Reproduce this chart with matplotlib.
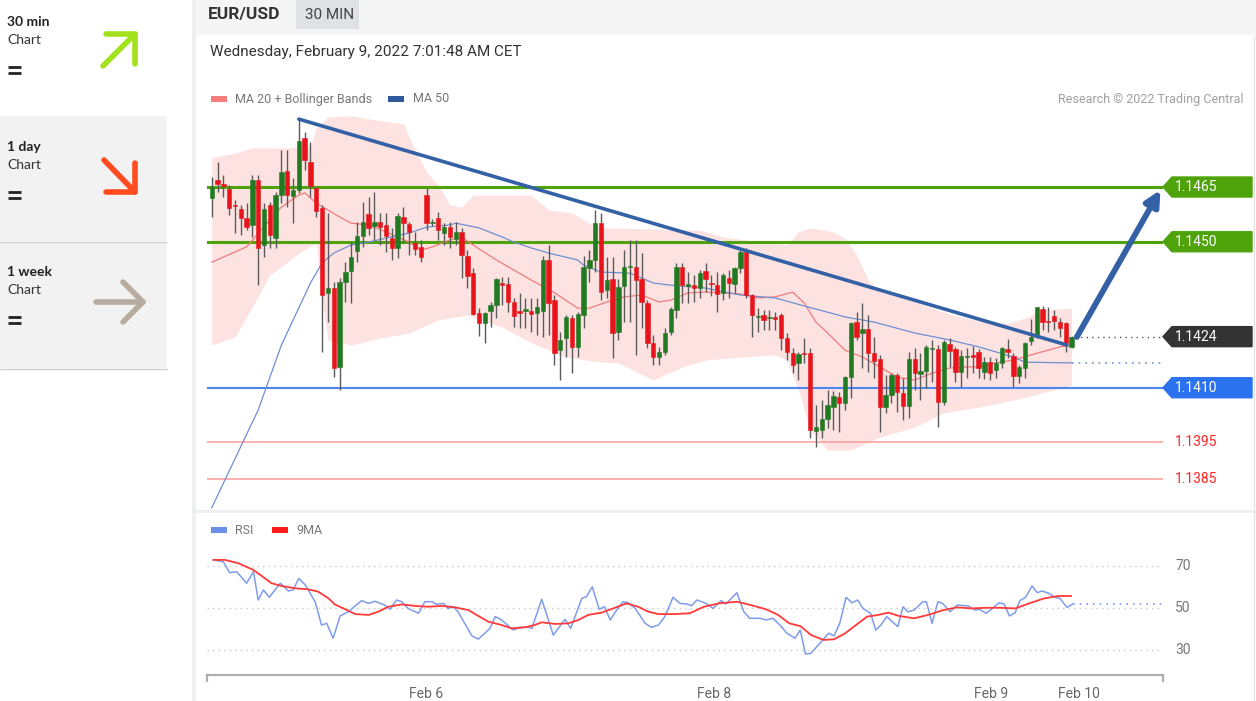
import matplotlib
matplotlib.use("Agg")
import numpy as np
import matplotlib.pyplot as plt
from matplotlib.patches import Rectangle, Polygon
from matplotlib.lines import Line2D
from matplotlib.transforms import blended_transform_factory

W, H = 1256, 701

# ---- candles (30 min EUR/USD) ----
opens = [1.14620, 1.14669, 1.14658, 1.14645, 1.14601, 1.14590, 1.14565, 1.14546, 1.14669, 1.14491,
         1.14601, 1.14510, 1.14628, 1.14694, 1.14625, 1.14642, 1.14784, 1.14719, 1.14647, 1.14592,
         1.14360, 1.14373, 1.14157, 1.14390, 1.14420, 1.14475, 1.14516, 1.14576, 1.14543, 1.14554,
         1.14546, 1.14510, 1.14483, 1.14568, 1.14549, 1.14497, 1.14486, 1.14628, 1.14551, 1.14565,
         1.14524, 1.14540, 1.14508, 1.14527, 1.14461, 1.14414, 1.14305, 1.14277, 1.14310, 1.14327,
         1.14387, 1.14384, 1.14335, 1.14310, 1.14310, 1.14310, 1.14305, 1.14310, 1.14450, 1.14340,
         1.14203, 1.14236, 1.14291, 1.14212, 1.14299, 1.14428, 1.14450, 1.14551, 1.14368, 1.14398,
         1.14253, 1.14379, 1.14431, 1.14431, 1.14398, 1.14332, 1.14223, 1.14184, 1.14198, 1.14253,
         1.14313, 1.14431, 1.14379, 1.14381, 1.14373, 1.14420, 1.14387, 1.14381, 1.14360, 1.14401,
         1.14384, 1.14428, 1.14472, 1.14354, 1.14294, 1.14299, 1.14291, 1.14294, 1.14299, 1.14236,
         1.14195, 1.14168, 1.14195, 1.14195, 1.13981, 1.13984, 1.14014, 1.14047, 1.14075, 1.14058,
         1.14129, 1.14280, 1.14250, 1.14261, 1.14195, 1.14179, 1.14047, 1.14080, 1.14135, 1.14086,
         1.14050, 1.14179, 1.14138, 1.14146, 1.14206, 1.14206, 1.14061, 1.14220, 1.14206, 1.14143,
         1.14184, 1.14190, 1.14198, 1.14143, 1.14170, 1.14149, 1.14168, 1.14206, 1.14187, 1.14132,
         1.14154, 1.14228, 1.14244, 1.14316, 1.14283, 1.14297, 1.14280, 1.14277, 1.14212]
highs = [1.14677, 1.14719, 1.14683, 1.14655, 1.14614, 1.14601, 1.14606, 1.14683, 1.14683, 1.14606,
         1.14609, 1.14636, 1.14751, 1.14751, 1.14675, 1.14836, 1.14801, 1.14773, 1.14650, 1.14601,
         1.14579, 1.14390, 1.14401, 1.14444, 1.14499, 1.14554, 1.14609, 1.14623, 1.14636, 1.14579,
         1.14579, 1.14538, 1.14579, 1.14595, 1.14554, 1.14527, 1.14505, 1.14647, 1.14562, 1.14581,
         1.14551, 1.14554, 1.14554, 1.14538, 1.14477, 1.14428, 1.14318, 1.14307, 1.14335, 1.14401,
         1.14403, 1.14403, 1.14346, 1.14360, 1.14346, 1.14346, 1.14346, 1.14461, 1.14491, 1.14354,
         1.14253, 1.14299, 1.14299, 1.14307, 1.14461, 1.14477, 1.14587, 1.14579, 1.14458, 1.14458,
         1.14398, 1.14477, 1.14505, 1.14505, 1.14469, 1.14340, 1.14244, 1.14212, 1.14264, 1.14321,
         1.14442, 1.14442, 1.14417, 1.14409, 1.14423, 1.14442, 1.14409, 1.14417, 1.14414, 1.14423,
         1.14431, 1.14483, 1.14483, 1.14357, 1.14318, 1.14313, 1.14313, 1.14307, 1.14305, 1.14250,
         1.14209, 1.14198, 1.14236, 1.14209, 1.14053, 1.14066, 1.14094, 1.14091, 1.14088, 1.14132,
         1.14280, 1.14307, 1.14332, 1.14299, 1.14239, 1.14190, 1.14135, 1.14140, 1.14140, 1.14127,
         1.14198, 1.14209, 1.14195, 1.14217, 1.14231, 1.14217, 1.14231, 1.14236, 1.14212, 1.14203,
         1.14209, 1.14214, 1.14206, 1.14184, 1.14184, 1.14181, 1.14212, 1.14234, 1.14195, 1.14162,
         1.14225, 1.14288, 1.14321, 1.14324, 1.14321, 1.14313, 1.14291, 1.14280, 1.14242]
lows = [1.14568, 1.14636, 1.14623, 1.14573, 1.14524, 1.14518, 1.14532, 1.14513, 1.14381, 1.14458,
        1.14483, 1.14483, 1.14606, 1.14595, 1.14551, 1.14634, 1.14697, 1.14623, 1.14568, 1.14198,
        1.14280, 1.14129, 1.14094, 1.14335, 1.14332, 1.14444, 1.14486, 1.14518, 1.14505, 1.14491,
        1.14472, 1.14450, 1.14455, 1.14497, 1.14464, 1.14464, 1.14444, 1.14532, 1.14543, 1.14505,
        1.14491, 1.14483, 1.14491, 1.14401, 1.14373, 1.14299, 1.14242, 1.14223, 1.14266, 1.14291,
        1.14327, 1.14307, 1.14266, 1.14264, 1.14264, 1.14253, 1.14244, 1.14239, 1.14244, 1.14162,
        1.14121, 1.14184, 1.14140, 1.14184, 1.14264, 1.14390, 1.14417, 1.14340, 1.14346, 1.14181,
        1.14231, 1.14280, 1.14280, 1.14190, 1.14264, 1.14209, 1.14162, 1.14162, 1.14190, 1.14244,
        1.14291, 1.14332, 1.14332, 1.14335, 1.14346, 1.14362, 1.14351, 1.14307, 1.14340, 1.14346,
        1.14360, 1.14414, 1.14346, 1.14239, 1.14253, 1.14258, 1.14258, 1.14258, 1.14203, 1.14176,
        1.14140, 1.14121, 1.14168, 1.13962, 1.13938, 1.13962, 1.13990, 1.13984, 1.13979, 1.14039,
        1.14072, 1.14231, 1.14154, 1.14143, 1.14127, 1.13979, 1.14031, 1.14058, 1.14033, 1.14012,
        1.14017, 1.14094, 1.14066, 1.14099, 1.14116, 1.13992, 1.14053, 1.14157, 1.14116, 1.14102,
        1.14127, 1.14140, 1.14127, 1.14124, 1.14121, 1.14127, 1.14154, 1.14181, 1.14102, 1.14113,
        1.14127, 1.14217, 1.14236, 1.14258, 1.14253, 1.14258, 1.14239, 1.14198, 1.14209]
closes = [1.14650, 1.14658, 1.14653, 1.14592, 1.14598, 1.14565, 1.14540, 1.14669, 1.14483, 1.14590,
          1.14518, 1.14628, 1.14691, 1.14628, 1.14642, 1.14776, 1.14724, 1.14653, 1.14584, 1.14354,
          1.14373, 1.14154, 1.14390, 1.14417, 1.14458, 1.14516, 1.14554, 1.14538, 1.14554, 1.14540,
          1.14516, 1.14483, 1.14571, 1.14551, 1.14527, 1.14480, 1.14458, 1.14551, 1.14554, 1.14532,
          1.14540, 1.14513, 1.14527, 1.14464, 1.14406, 1.14302, 1.14277, 1.14305, 1.14327, 1.14398,
          1.14381, 1.14335, 1.14297, 1.14305, 1.14316, 1.14302, 1.14321, 1.14450, 1.14332, 1.14195,
          1.14231, 1.14294, 1.14212, 1.14302, 1.14431, 1.14450, 1.14551, 1.14362, 1.14395, 1.14250,
          1.14376, 1.14431, 1.14434, 1.14395, 1.14335, 1.14223, 1.14184, 1.14198, 1.14250, 1.14316,
          1.14431, 1.14381, 1.14384, 1.14373, 1.14414, 1.14398, 1.14384, 1.14357, 1.14409, 1.14387,
          1.14428, 1.14472, 1.14354, 1.14299, 1.14297, 1.14286, 1.14294, 1.14288, 1.14236, 1.14198,
          1.14162, 1.14192, 1.14192, 1.13984, 1.13992, 1.14014, 1.14053, 1.14077, 1.14058, 1.14129,
          1.14277, 1.14239, 1.14261, 1.14195, 1.14173, 1.14047, 1.14080, 1.14135, 1.14088, 1.14050,
          1.14179, 1.14140, 1.14146, 1.14212, 1.14209, 1.14061, 1.14225, 1.14201, 1.14143, 1.14187,
          1.14187, 1.14184, 1.14154, 1.14170, 1.14140, 1.14168, 1.14209, 1.14198, 1.14132, 1.14157,
          1.14223, 1.14239, 1.14321, 1.14280, 1.14280, 1.14283, 1.14264, 1.14223, 1.14240]

# ---- indicators (read at candle positions) ----
ma20_x = [0, 6, 10, 12, 15, 16, 18, 20, 22, 24, 27, 30, 34, 36, 38, 41, 43, 45, 49, 55, 59, 63, 65,
          68, 71, 74, 77, 79, 82, 85, 88, 91, 94, 97, 100, 102, 104, 106, 109, 112, 115, 118, 121,
          124, 127, 130, 132, 135, 138, 141, 144, 146, 148]
ma20_y = [1.14444, 1.14486, 1.14560, 1.14595, 1.14628, 1.14634, 1.14606, 1.14587, 1.14568, 1.14551,
          1.14546, 1.14527, 1.14499, 1.14477, 1.14486, 1.14505, 1.14513, 1.14491, 1.14450, 1.14395,
          1.14360, 1.14318, 1.14318, 1.14335, 1.14349, 1.14354, 1.14335, 1.14340, 1.14360, 1.14362,
          1.14360, 1.14357, 1.14346, 1.14349, 1.14362, 1.14332, 1.14280, 1.14250, 1.14203, 1.14184,
          1.14157, 1.14129, 1.14121, 1.14140, 1.14154, 1.14157, 1.14157, 1.14168, 1.14176, 1.14190,
          1.14203, 1.14212, 1.14217]

ma50_x = [0, 8, 12, 17, 19, 21, 24, 27, 30, 34, 37, 41, 42, 46, 50, 52, 55, 58, 63, 64, 67, 72, 76,
          79, 85, 91, 97, 102, 106, 109, 114, 121, 127, 132, 138, 140, 148]
ma50_y = [1.13771, 1.14039, 1.14217, 1.14387, 1.14442, 1.14469, 1.14491, 1.14499, 1.14510, 1.14524,
          1.14540, 1.14546, 1.14551, 1.14538, 1.14513, 1.14499, 1.14483, 1.14469, 1.14450, 1.14436,
          1.14417, 1.14414, 1.14387, 1.14381, 1.14373, 1.14354, 1.14346, 1.14324, 1.14307, 1.14294,
          1.14280, 1.14250, 1.14231, 1.14212, 1.14184, 1.14170, 1.14168]

bb_up_x = [0, 4, 7, 12, 17, 18, 20, 24, 28, 33, 35, 37, 39, 41, 43, 45, 55, 58, 62, 65, 68, 84, 88,
           95, 99, 101, 103, 107, 109, 111, 113, 115, 119, 124, 128, 132, 137, 140, 143, 148]
bb_up_y = [1.14730, 1.14743, 1.14757, 1.14757, 1.14760, 1.14812, 1.14842, 1.14845, 1.14834, 1.14823,
           1.14751, 1.14691, 1.14655, 1.14601, 1.14595, 1.14628, 1.14628, 1.14587, 1.14579, 1.14551,
           1.14538, 1.14532, 1.14513, 1.14499, 1.14491, 1.14527, 1.14538, 1.14527, 1.14510, 1.14464,
           1.14395, 1.14362, 1.14346, 1.14318, 1.14297, 1.14283, 1.14277, 1.14291, 1.14313, 1.14318]
bb_lo_x = [0, 4, 7, 10, 13, 15, 18, 19, 20, 24, 29, 34, 39, 44, 50, 54, 58, 61, 67, 70, 76, 81, 85,
           91, 97, 99, 101, 103, 106, 110, 115, 121, 126, 132, 138, 143, 148]
bb_lo_y = [1.14217, 1.14239, 1.14321, 1.14409, 1.14444, 1.14469, 1.14497, 1.14340, 1.14231, 1.14217,
           1.14236, 1.14250, 1.14286, 1.14299, 1.14266, 1.14231, 1.14203, 1.14184, 1.14170, 1.14168,
           1.14121, 1.14157, 1.14176, 1.14184, 1.14190, 1.14176, 1.14094, 1.13984, 1.13929, 1.13929,
           1.13965, 1.13992, 1.14031, 1.14047, 1.14066, 1.14086, 1.14107]

trend_x = [15, 147.2]
trend_y = [1.14836, 1.14217]
arrow_from = (148.9, 1.14239)
arrow_to = (163.3, 1.14642)

resist = [1.1465, 1.1450]
last_price = 1.1424
support_main = 1.1410
support_low = [1.1395, 1.1385]

# ---- RSI panel ----
rsi_x = [0.3, 2.0, 3.1, 4.3, 6.0, 7.2, 8.0, 8.9, 9.9, 11.8, 13.2, 14.0, 15.0, 16.1, 17.8, 18.9, 19.8,
         20.9, 22.1, 23.5, 25.8, 27.0, 28.1, 29.8, 30.7, 31.8, 32.7, 33.8, 35.6, 36.7, 37.9, 38.7,
         39.9, 40.7, 41.6, 42.4, 44.8, 45.9, 47.9, 48.8, 49.9, 51.9, 53.1, 54.5, 55.1, 56.8, 58.8,
         60.8, 61.8, 63.7, 64.5, 65.5, 66.7, 67.6, 68.6, 69.7, 70.8, 71.7, 72.9, 74.6, 75.7, 76.9,
         78.0, 79.4, 80.6, 81.8, 82.6, 83.5, 85.1, 86.3, 87.7, 88.5, 90.4, 91.6, 92.6, 94.4, 95.4,
         96.6, 97.8, 99.0, 100.4, 101.3, 102.2, 103.1, 104.7, 106.2, 107.1, 108.1, 109.2, 110.2,
         111.2, 112.1, 113.4, 114.3, 115.2, 116.2, 118.1, 119.0, 119.8, 120.9, 122.4, 123.0, 124.0,
         125.0, 125.8, 127.1, 128.3, 130.2, 131.4, 132.1, 133.3, 134.2, 135.5, 136.4, 137.3, 138.3,
         139.1, 140.1, 141.2, 142.1, 142.9, 144.1, 145.1, 146.0, 147.2, 148.2]
rsi_v = [72.9, 72.0, 66.8, 67.3, 61.8, 67.3, 53.8, 58.6, 55.1, 61.8, 58.1, 58.6, 64.1, 61.0, 53.0,
         41.9, 42.7, 35.6, 46.2, 48.2, 53.5, 52.2, 53.2, 51.4, 49.4, 53.8, 53.0, 49.8, 47.5, 53.0,
         53.0, 51.8, 52.2, 49.8, 50.6, 48.2, 36.7, 35.2, 40.3, 45.9, 44.3, 39.5, 40.8, 40.8, 40.3,
         54.1, 37.1, 44.6, 40.3, 54.6, 55.4, 60.1, 49.4, 50.6, 44.3, 49.0, 53.0, 52.5, 49.8, 42.7,
         40.8, 41.9, 45.9, 55.1, 52.2, 51.9, 51.1, 53.8, 52.2, 49.8, 53.5, 51.9, 57.3, 48.2, 45.1,
         45.1, 44.3, 45.1, 41.9, 38.0, 35.6, 39.5, 28.1, 28.4, 33.2, 38.0, 36.7, 42.7, 55.1, 52.5,
         53.8, 49.8, 47.5, 39.5, 41.9, 45.9, 41.1, 50.6, 48.2, 49.0, 53.0, 53.0, 42.7, 53.0, 52.2,
         48.2, 51.4, 51.0, 49.0, 49.4, 47.5, 49.4, 52.5, 51.9, 46.2, 47.8, 53.5, 55.1, 60.5, 57.3,
         58.1, 57.0, 55.1, 54.6, 50.3, 51.9]
ma9_x = [0.3, 2.3, 4.6, 7.2, 10.3, 12.0, 14.3, 16.6, 18.3, 20.1, 21.2, 22.9, 24.7, 27.0, 28.7, 30.4,
         32.7, 35.0, 37.3, 39.6, 41.9, 44.2, 45.9, 47.6, 49.9, 51.6, 53.9, 55.6, 56.8, 59.1, 61.4,
         63.1, 64.8, 67.1, 69.1, 71.4, 73.4, 75.1, 76.9, 79.7, 82.3, 84.7, 87.3, 90.4, 92.8, 95.4,
         97.5, 99.4, 101.3, 103.2, 105.3, 107.1, 109.0, 110.9, 112.8, 114.7, 116.5, 118.3, 120.9,
         123.3, 125.9, 128.3, 130.8, 133.3, 135.7, 138.3, 140.7, 143.3, 145.7, 147.9]
ma9_v = [72.9, 72.9, 71.3, 68.1, 61.8, 60.5, 59.4, 58.9, 57.8, 54.6, 51.7, 49.5, 47.1, 46.7, 48.3,
         50.6, 51.7, 51.0, 50.6, 51.0, 50.3, 49.0, 46.2, 43.5, 41.9, 40.3, 40.8, 41.9, 43.2, 42.4,
         42.7, 44.3, 46.7, 47.8, 49.8, 52.2, 50.6, 48.3, 47.1, 47.1, 47.5, 50.6, 52.2, 53.0, 51.4,
         49.4, 46.7, 42.7, 41.4, 37.1, 34.8, 35.1, 37.9, 41.9, 45.9, 46.7, 47.8, 46.2, 45.1, 46.7,
         49.0, 50.3, 49.8, 50.1, 50.1, 49.8, 52.2, 54.6, 55.7, 55.7]
rsi_levels = [70, 50, 30]

tick_pos = [36.9, 86.5, 134.1, 149.3]
tick_labels = ["Feb 6", "Feb 8", "Feb 9", "Feb 10"]

# ---- figure ----
plt.rcParams["font.family"] = ["Roboto", "DejaVu Sans"]
fig = plt.figure(figsize=(W / 100, H / 100), dpi=100)
fig.patch.set_facecolor("white")


def fx(x):
    return x / W


def fy(y):
    return 1 - y / H


def frect(x0, y0, x1, y1, color, z=0):
    fig.patches.append(Rectangle((fx(x0), fy(y1)), fx(x1 - x0), (y1 - y0) / H,
                                 transform=fig.transFigure, color=color, zorder=z, lw=0))


def fline(xs, ys, color, lw, z=5, cap="round"):
    fig.lines.append(Line2D([fx(v) for v in xs], [fy(v) for v in ys], transform=fig.transFigure,
                            color=color, lw=lw, solid_capstyle=cap, zorder=z))


# sidebar
frect(0, 116, 167, 241, "#f2f2f2")
frect(0, 242, 167, 368, "#f2f2f2")
fline([0, 167], [241.5, 241.5], "#cfcfcf", 1, cap="butt")
fline([0, 167], [368.5, 368.5], "#cfcfcf", 1, cap="butt")
frect(192, 0, 196, H, "#eef0f2")
side_font = ["Lato", "DejaVu Sans"]
for top, name in [(22, "30 min"), (147, "1 day"), (272, "1 week")]:
    fig.text(fx(7), fy(top), name, fontsize=10, fontweight="bold", color="#222222",
             va="center", family=side_font)
    fig.text(fx(7), fy(top + 18), "Chart", fontsize=10, color="#333333", va="center", family=side_font)
    fline([8, 21], [top + 45, top + 45], "#222222", 2.0, cap="butt")
    fline([8, 21], [top + 51, top + 51], "#222222", 2.0, cap="butt")
fline([103, 135], [66, 34], "#a2e21c", 4)
fline([106, 135, 135], [34, 34, 64], "#a2e21c", 4)
fline([104, 135], [160, 192], "#ff4b1f", 4)
fline([106, 135, 135], [192, 192, 163], "#ff4b1f", 4)
fline([96, 143], [302, 302], "#b8ab9f", 4)
fline([123, 143, 123], [282, 302, 322], "#b8ab9f", 4)

# header
frect(196, 0, W, 35, "#f5f5f5")
frect(296, 0, 359, 29, "#dfe1e5")
fig.text(fx(208), fy(15), "EUR/USD", fontsize=12.5, fontweight="bold", color="#333333", va="center")
fig.text(fx(305), fy(15), "30 MIN", fontsize=11, color="#444444", va="center")
fig.text(fx(210), fy(52), "Wednesday, February 9, 2022 7:01:48 AM CET", fontsize=11,
         color="#333333", va="center")
frect(211, 96, 227, 102, "#f47c7c")
fig.text(fx(235), fy(99), "MA 20 + Bollinger Bands", fontsize=9, color="#777777", va="center")
frect(388, 96, 404, 102, "#2f5a9e")
fig.text(fx(413), fy(99), "MA 50", fontsize=9, color="#777777", va="center")
fig.text(fx(1244), fy(99), "Research \u00a9 2022 Trading Central", fontsize=9, color="#a0a0a0",
         va="center", ha="right")
frect(196, 510, W, 513, "#eef0f3")
fline([1253.5, 1253.5], [35, H], "#e3e3e3", 1, cap="butt")

# ---- price panel ----
ax = fig.add_axes([fx(207), fy(510), fx(1163 - 207), 400 / H])
ax.set_xlim(-0.81, 163.74)
ax.set_ylim(1.13765, 1.14861)
ax.axis("off")

# band edges were read at their own positions, so put them on one shared x grid for the fill
xs_all = sorted(set(bb_up_x) | set(bb_lo_x))
ax.fill_between(xs_all, np.interp(xs_all, bb_up_x, bb_up_y), np.interp(xs_all, bb_lo_x, bb_lo_y),
                color="#fde2e2", lw=0, zorder=1)
ax.plot(ma20_x, ma20_y, color="#f27a7a", lw=0.9, zorder=3)
ax.plot(ma50_x, ma50_y, color="#6f8fd2", lw=0.9, zorder=3)

for lvl in resist:
    ax.axhline(lvl, color="#4ea30a", lw=2.2, zorder=2)
ax.axhline(support_main, color="#4f86ee", lw=1.5, zorder=2)
for lvl in support_low:
    ax.axhline(lvl, color="#ff9b9b", lw=1.1, zorder=2)
ax.hlines(last_price, 148.6, 163.74, colors="#555555", linestyles=(0, (1, 3)), lw=1)
ax.hlines(ma50_y[-1], ma50_x[-1], 163.74, colors="#6f8fd2", linestyles=(0, (1, 3)), lw=1.2)

idx = list(range(len(opens)))
up_col, dn_col = "#217a21", "#e8141c"
cols = [up_col if c >= o else dn_col for o, c in zip(opens, closes)]
ax.vlines(idx, lows, highs, colors="#5a5a5a", lw=1, zorder=4)
bottoms = [min(o, c) for o, c in zip(opens, closes)]
heights = [max(abs(c - o), 0.000025) for o, c in zip(opens, closes)]
ax.bar(idx, heights, bottom=bottoms, width=0.75, color=cols, edgecolor=cols, lw=0.4, zorder=5)

ax.plot(trend_x, trend_y, color="#3461a6", lw=2.6, zorder=6, solid_capstyle="round")
ax.annotate("", xy=arrow_to, xytext=arrow_from, zorder=7,
            arrowprops=dict(arrowstyle="-|>,head_length=0.9,head_width=0.45", lw=4.2,
                            color="#3461a6", shrinkA=0, shrinkB=0))

tr = blended_transform_factory(ax.transAxes, ax.transData)
hh = 0.000274
for lvl, txt, col in [(resist[0], "1.1465", "#4ea30a"), (resist[1], "1.1450", "#4ea30a"),
                      (last_price, "1.1424", "#333333"), (support_main, "1.1410", "#2a72ee")]:
    ax.add_patch(Polygon([(1.0, lvl), (1.0094, lvl + hh), (1.0931, lvl + hh), (1.0931, lvl - hh),
                          (1.0094, lvl - hh)], closed=True, transform=tr, color=col, clip_on=False,
                         zorder=8))
    ax.text(1.0126, lvl, txt, transform=tr, color="white", fontsize=10, va="center", zorder=9)
for lvl in support_low:
    ax.text(1.0126, lvl, f"{lvl:.4f}", transform=tr, color="#ff2424", fontsize=10, va="center")

# ---- RSI panel ----
rx = fig.add_axes([fx(207), fy(675), fx(1163 - 207), 135 / H])
rx.set_xlim(-0.81, 163.74)
rx.set_ylim(18.1, 82.38)
for s in ["top", "left", "right"]:
    rx.spines[s].set_visible(False)
rx.spines["bottom"].set_color("#b0b0b0")
rx.spines["bottom"].set_linewidth(1.6)
rx.set_yticks([])
rx.set_xticks(tick_pos)
rx.set_xticklabels(tick_labels, fontsize=10, color="#666666")
rx.tick_params(axis="x", length=0, pad=9)
for end in [0.0, 1.0]:
    rx.plot([end, end], [0, -0.045], transform=rx.transAxes, color="#b0b0b0", lw=1.6, clip_on=False)
rtr = blended_transform_factory(rx.transAxes, rx.transData)
for lvl in rsi_levels:
    rx.axhline(lvl, color="#c8c8c8", lw=1, linestyle=(0, (1, 3)))
    rx.text(1.0126, lvl, str(lvl), transform=rtr, fontsize=10, color="#777777", va="center")
rx.plot(rsi_x, rsi_v, color="#7e9cec", lw=1.1)
rx.plot(ma9_x, ma9_v, color="#ff3a3a", lw=1.3)
rx.hlines(rsi_v[-1], rsi_x[-1], 163.74, colors="#7e9cec", linestyles=(0, (1, 3)), lw=1.2)

frect(211, 527, 227, 533, "#6d8fe8")
fig.text(fx(235), fy(530), "RSI", fontsize=9, color="#777777", va="center")
frect(272, 527, 288, 533, "#ff1a1a")
fig.text(fx(296), fy(530), "9MA", fontsize=9, color="#777777", va="center")

fig.savefig("out.png", dpi=100)
